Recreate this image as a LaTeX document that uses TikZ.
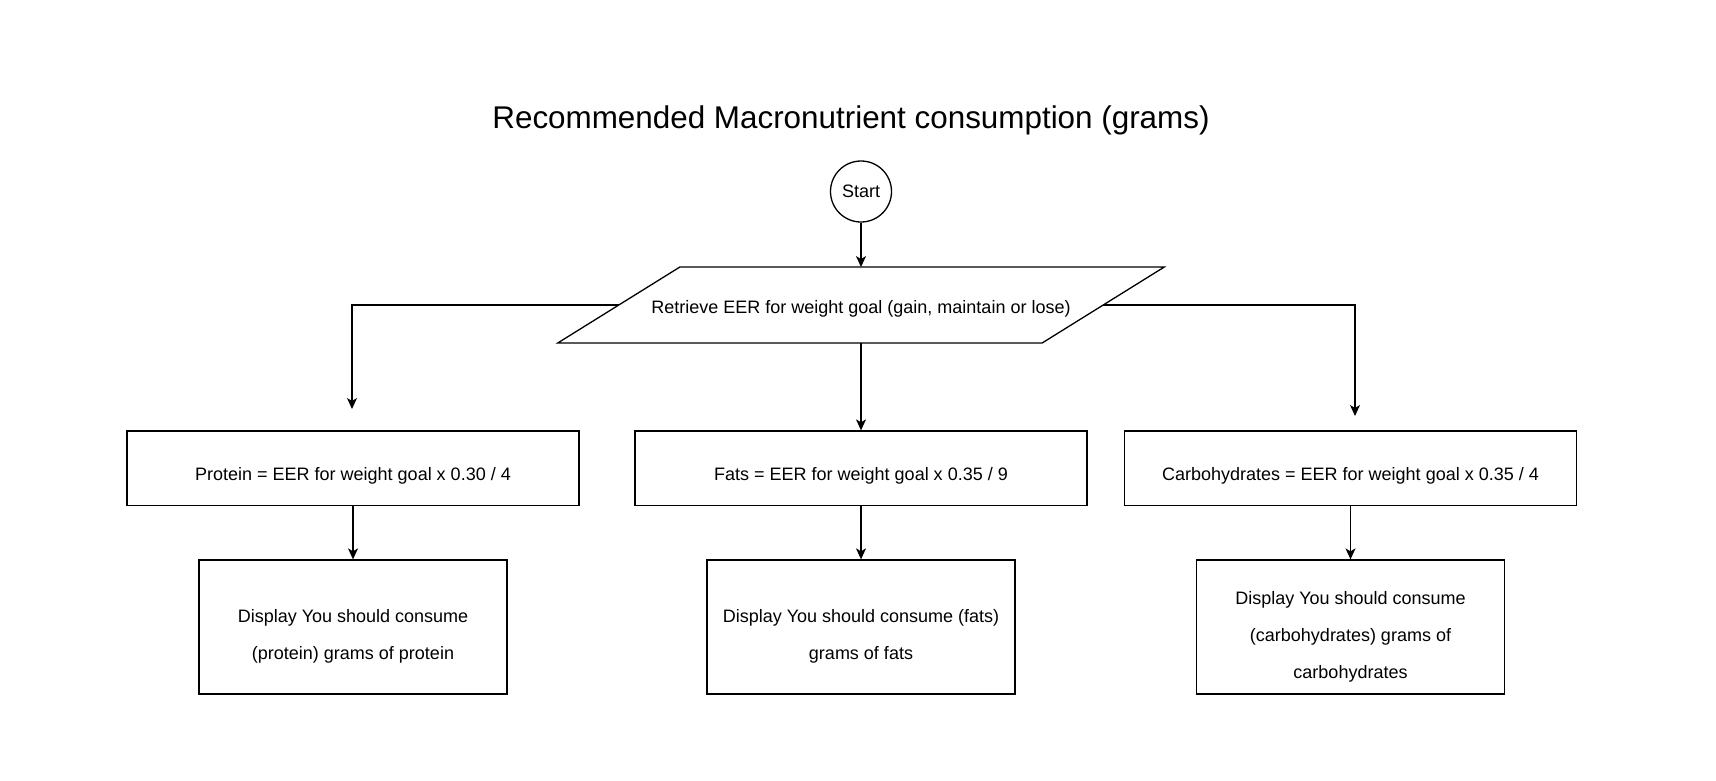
\documentclass[tikz,border=0pt]{standalone}
\usepackage{fontspec}
\setmainfont{Liberation Sans}
\usetikzlibrary{shapes, positioning, calc, arrows.meta}

\tikzset{
    txt/.style={font=\fontsize{18}{37}\selectfont},
    calcbox/.style={draw, line width=1.3pt, txt, minimum width=452pt, minimum height=74.6pt, text height=24pt, text depth=0pt},
    showbox/.style={draw, line width=1.3pt, minimum width=308pt, minimum height=134pt},
    showtxt/.style={txt, align=center, yshift=-9.5pt},
    arrow/.style={line width=1.3pt, -{Stealth[length=11pt, width=10pt, inset=3pt]}}
}

\begin{document}
\begin{tikzpicture}[x=1pt, y=-1pt]
        \fill[white] (0,0) rectangle (1716,780);

        \node (title) at (851,120) {\fontsize{31.4}{36}\selectfont Recommended Macronutrient consumption (grams)};
        \node (start) at (861,191.5) [draw, circle, line width=1.3pt, minimum size=61pt, inner sep=0pt, txt] {Start};
        \node (retr) at (861,305) [minimum width=484pt, minimum height=75.5pt, inner sep=0pt, txt, text height=18pt, text depth=2pt] {Retrieve EER for weight goal (gain, maintain or lose)};
        \draw[line width=1.3pt] ($(retr.south west)+(-61,0)$) -- ($(retr.south east)+(-61,0)$)
            -- ($(retr.north east)+(61,0)$) -- ($(retr.north west)+(61,0)$) -- cycle;

        % calculations
        \node (prot) at (353,468.3) [calcbox] {Protein = EER for weight goal x 0.30 / 4};
        \node (fats) at (861,468.3) [calcbox] {Fats = EER for weight goal x 0.35 / 9};
        \node (carb) at (1350.5,468.3) [calcbox] {Carbohydrates = EER for weight goal x 0.35 / 4};

        % output
        \node (showp) at (353,627) [showbox, label={[showtxt]center:{Display You should consume\\(protein) grams of protein}}] {};
        \node (showf) at (861,627) [showbox, label={[showtxt]center:{Display You should consume (fats)\\grams of fats}}] {};
        \node (showc) at (1350.5,627) [showbox, label={[showtxt]center:{Display You should consume\\(carbohydrates) grams of\\carbohydrates}}] {};

        \coordinate (pin) at (352,409);
        \coordinate (cin) at (1355,416);

        \draw[arrow] (start) -- (retr.north);
        \draw[arrow] (retr.west) -| (pin);
        \draw[arrow] (retr.south) -- (fats);
        \draw[arrow] (retr.east) -| (cin);
        \draw[arrow] (prot) -- (showp);
        \draw[arrow] (fats) -- (showf);
        \draw[arrow] (carb) -- (showc);
    \end{tikzpicture}
\end{document}
